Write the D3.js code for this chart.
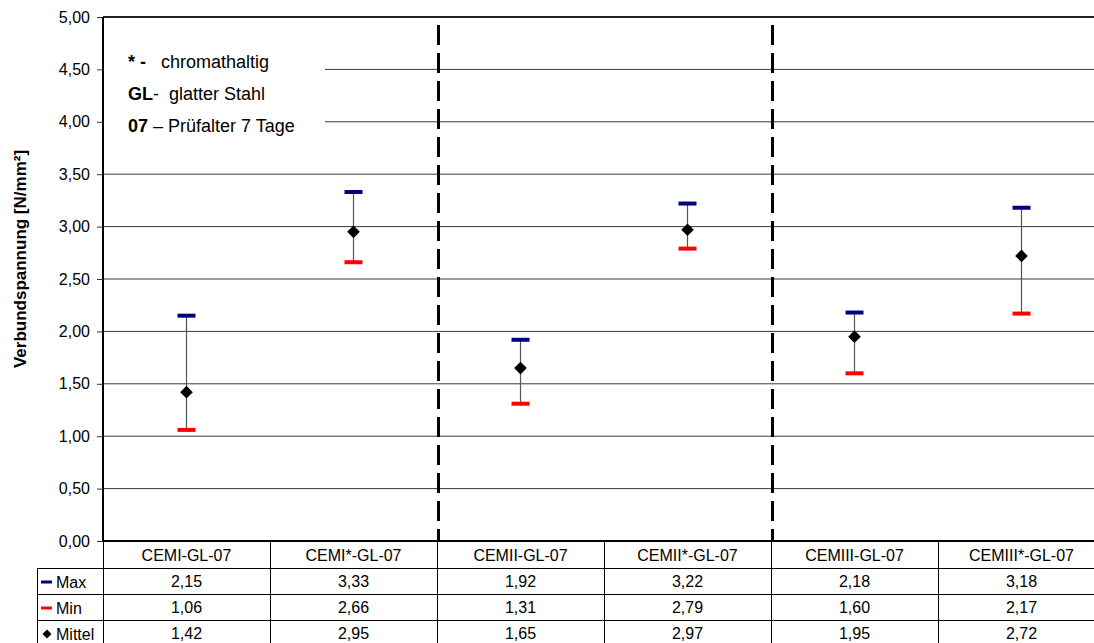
<!DOCTYPE html>
<html lang="de">
<head>
  <meta charset="UTF-8">
  <title>Verbundspannung</title>
  <script src="https://d3js.org/d3.v7.min.js"></script>
  <style>
    body { margin: 0; background: #fff; font-family: "Liberation Sans", Arial, sans-serif; }
    svg { display: block; }
  </style>
</head>
<body>
  <svg id="chart" width="1094" height="643"></svg>
  <script>
    const categories = ["CEMI-GL-07", "CEMI*-GL-07", "CEMII-GL-07", "CEMII*-GL-07", "CEMIII-GL-07", "CEMIII*-GL-07"];
    const maxValues = [2.15, 3.33, 1.92, 3.22, 2.18, 3.18];
    const minValues = [1.06, 2.66, 1.31, 2.79, 1.60, 2.17];
    const meanValues = [1.42, 2.95, 1.65, 2.97, 1.95, 2.72];
    const yTicks = [0, 0.5, 1, 1.5, 2, 2.5, 3, 3.5, 4, 4.5, 5];
    const rowNames = ["Max", "Min", "Mittel"];
    const groupSplits = ["CEMII-GL-07", "CEMIII-GL-07"];

    const fmt = v => d3.format(".2f")(v).replace(".", ",");

    // plot area runs a bit past the right edge (the original is cropped there)
    const pLeft = 103, pRight = 1105, pTop = 17, pBottom = 541;
    const svg = d3.select("#chart");

    const x = d3.scaleBand().domain(categories).range([pLeft, pRight]);
    const y = d3.scaleLinear().domain([0, 5]).range([pBottom, pTop]);

    // gridlines
    svg.append("g").selectAll("line")
      .data(yTicks.filter(t => t > 0))
      .join("line")
      .attr("x1", pLeft).attr("x2", pRight)
      .attr("y1", d => y(d)).attr("y2", d => y(d))
      .attr("stroke", d => d === 5 ? "#222" : "#3a3a3a")
      .attr("stroke-width", d => d === 5 ? 2 : 1);

    // note box covering gridlines
    svg.append("rect")
      .attr("x", pLeft + 1).attr("y", y(4.78))
      .attr("width", 325 - pLeft - 1).attr("height", y(3.65) - y(4.78))
      .attr("fill", "#fff");

    const note = svg.append("g").attr("font-size", 18).attr("fill", "#000");
    const noteLines = [
      [["* -", true], ["   chromathaltig", false]],
      [["GL", true], ["-  glatter Stahl", false]],
      [["07", true], [" \u2013 Prüfalter 7 Tage", false]]
    ];
    noteLines.forEach((parts, i) => {
      const t = note.append("text")
        .attr("x", 128).attr("y", 68 + i * 32)
        .style("white-space", "pre");
      parts.forEach(p => t.append("tspan").attr("font-weight", p[1] ? "bold" : "normal").text(p[0]));
    });

    // dashed group separators
    svg.append("g").selectAll("line")
      .data(groupSplits)
      .join("line")
      .attr("x1", d => x(d) + 1.5).attr("x2", d => x(d) + 1.5)
      .attr("y1", y(5)).attr("y2", y(0))
      .attr("stroke", "#000").attr("stroke-width", 3)
      .attr("stroke-dasharray", "20,8").attr("stroke-dashoffset", 20);

    // y axis
    const yAxis = svg.append("g")
      .attr("transform", `translate(${pLeft},0)`)
      .call(d3.axisLeft(y).tickValues(yTicks).tickFormat(fmt).tickSize(6).tickPadding(7));
    yAxis.select(".domain").attr("stroke-width", 2).attr("d", `M0,${pTop}V${pBottom}`);
    yAxis.selectAll(".tick line").attr("stroke", "#333");
    yAxis.selectAll("text").attr("font-size", 16).attr("font-family", "Liberation Sans, Arial, sans-serif").attr("fill", "#000");

    svg.append("text")
      .attr("transform", `translate(26,259) rotate(-90)`)
      .attr("text-anchor", "middle")
      .attr("font-size", 17).attr("font-weight", "bold")
      .text("Verbundspannung [N/mm²]");

    // error bars
    const marks = svg.append("g");
    categories.forEach((c, i) => {
      const cx = x(c) + x.bandwidth() / 2;
      marks.append("line")
        .attr("x1", cx).attr("x2", cx)
        .attr("y1", y(maxValues[i])).attr("y2", y(minValues[i]))
        .attr("stroke", "#555").attr("stroke-width", 1.2);
      marks.append("line")
        .attr("x1", cx - 9).attr("x2", cx + 9)
        .attr("y1", y(maxValues[i])).attr("y2", y(maxValues[i]))
        .attr("stroke", "#000080").attr("stroke-width", 4);
      marks.append("line")
        .attr("x1", cx - 9).attr("x2", cx + 9)
        .attr("y1", y(minValues[i])).attr("y2", y(minValues[i]))
        .attr("stroke", "#ff0000").attr("stroke-width", 4);
      marks.append("path")
        .attr("d", d3.symbol(d3.symbolSquare, 80)())
        .attr("transform", `translate(${cx},${y(meanValues[i])}) rotate(45)`)
        .attr("fill", "#000");
    });

    // data table
    const tableLeft = 37, headH = 27, rowH = 26;
    const table = svg.append("g").attr("font-size", 16).attr("fill", "#000");
    const rows = [maxValues, minValues, meanValues];

    table.append("line").attr("x1", pLeft).attr("x2", pRight).attr("y1", pBottom).attr("y2", pBottom)
      .attr("stroke", "#000").attr("stroke-width", 2);
    [0, 1, 2, 3].forEach(r => {
      const yy = pBottom + headH + r * rowH + 0.5;
      table.append("line").attr("x1", tableLeft).attr("x2", pRight).attr("y1", yy).attr("y2", yy)
        .attr("stroke", "#000").attr("stroke-width", 1);
    });
    categories.forEach(c => {
      const xx = Math.round(x(c)) + 0.5;
      table.append("line").attr("x1", xx).attr("x2", xx)
        .attr("y1", pBottom).attr("y2", pBottom + headH + 3 * rowH)
        .attr("stroke", "#000").attr("stroke-width", 1);
    });
    table.append("line").attr("x1", tableLeft + 0.5).attr("x2", tableLeft + 0.5)
      .attr("y1", pBottom + headH).attr("y2", pBottom + headH + 3 * rowH)
      .attr("stroke", "#000").attr("stroke-width", 1);

    categories.forEach((c, i) => {
      const cx = x(c) + x.bandwidth() / 2;
      table.append("text").attr("x", cx).attr("y", pBottom + headH / 2 + 6)
        .attr("text-anchor", "middle").text(c);
      rows.forEach((vals, r) => {
        table.append("text").attr("x", cx).attr("y", pBottom + headH + r * rowH + rowH / 2 + 6)
          .attr("text-anchor", "middle").text(fmt(vals[i]));
      });
    });

    rowNames.forEach((n, r) => {
      const cy = pBottom + headH + r * rowH + rowH / 2 + 1;
      if (r < 2) {
        table.append("line").attr("x1", tableLeft + 4).attr("x2", tableLeft + 15)
          .attr("y1", cy).attr("y2", cy)
          .attr("stroke", r === 0 ? "#000080" : "#ff0000").attr("stroke-width", 3);
      } else {
        table.append("path").attr("d", d3.symbol(d3.symbolSquare, 40)())
          .attr("transform", `translate(${tableLeft + 10},${cy}) rotate(45)`).attr("fill", "#000");
      }
      table.append("text").attr("x", tableLeft + 19).attr("y", cy + 6).text(n);
    });
  </script>
</body>
</html>
